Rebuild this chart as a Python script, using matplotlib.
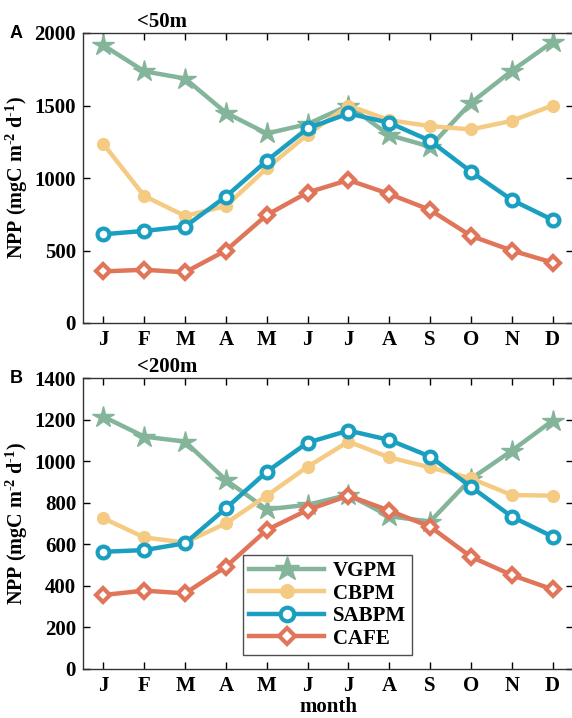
import matplotlib
matplotlib.use("Agg")
import matplotlib.pyplot as plt
import numpy as np

months = ["J", "F", "M", "A", "M", "J", "J", "A", "S", "O", "N", "D"]

# Panel A (<50m)
vgpm_50 = [1915, 1736, 1686, 1450, 1307, 1372, 1500, 1296, 1216, 1518, 1739, 1938]
cbpm_50 = [1234, 876, 738, 807, 1067, 1300, 1500, 1399, 1358, 1335, 1394, 1500]
sabpm_50 = [612, 635, 665, 872, 1119, 1342, 1445, 1381, 1257, 1044, 849, 711]
cafe_50 = [356, 367, 350, 500, 745, 900, 986, 890, 780, 601, 500, 417]

# Panel B (<200m)
vgpm_200 = [1214, 1118, 1094, 909, 768, 790, 838, 735, 709, 915, 1050, 1195]
cbpm_200 = [725, 633, 608, 701, 834, 973, 1094, 1018, 970, 917, 837, 834]
sabpm_200 = [564, 572, 605, 773, 949, 1089, 1147, 1102, 1022, 877, 733, 637]
cafe_200 = [356, 377, 364, 492, 669, 765, 834, 762, 685, 540, 452, 383]

names = ["VGPM", "CBPM", "SABPM", "CAFE"]
colors = ["#84b59a", "#f5cb84", "#1a9fc1", "#e0755a"]

serif = ["Liberation Serif", "DejaVu Serif"]
plt.rcParams["font.family"] = serif
plt.rcParams["font.weight"] = "bold"
plt.rcParams["mathtext.fontset"] = "custom"
plt.rcParams["mathtext.rm"] = "Liberation Serif:bold"
plt.rcParams["mathtext.bf"] = "Liberation Serif:bold"
plt.rcParams["mathtext.it"] = "Liberation Serif:bold"
plt.rcParams["mathtext.default"] = "rm"

fig = plt.figure(figsize=(5.72, 7.18), dpi=100)
W, H = 572.0, 718.0
axA = fig.add_axes([83 / W, 1 - 323 / H, (573 - 83) / W, (323 - 33) / H])
axB = fig.add_axes([83 / W, 1 - 669 / H, (573 - 83) / W, (669 - 378) / H])

x = np.arange(1, 13)


def draw(ax, data):
    styles = [
        dict(marker="*", ms=16, mfc=colors[0], mec=colors[0], mew=1),
        dict(marker="o", ms=8.5, mfc=colors[1], mec=colors[1], mew=1),
        dict(marker="o", ms=8.5, mfc="white", mec=colors[2], mew=3),
        dict(marker="D", ms=7.5, mfc="white", mec=colors[3], mew=3),
    ]
    handles = []
    for vals, c, st, nm in zip(data, colors, styles, names):
        h, = ax.plot(x, vals, color=c, lw=3.2, label=nm, **st)
        handles.append(h)
    ax.set_xlim(0.5, 12.5)
    ax.set_xticks(x)
    ax.set_xticklabels(months)
    ax.tick_params(direction="in", top=True, right=True, length=5, width=1,
                   labelsize=15, pad=5)
    for sp in ax.spines.values():
        sp.set_linewidth(1.0)
        sp.set_color("#333333")
    ax.set_ylabel(r"NPP (mgC m$^{\text{-2}}$ d$^{\text{-1}}$)", fontsize=14.5,
                  fontweight="bold")
    ax.yaxis.set_label_coords((30 - 83) / 490, 0.5)
    return handles


def boldify(ax):
    for lab in ax.get_xticklabels() + ax.get_yticklabels():
        lab.set_fontweight("bold")


draw(axA, [vgpm_50, cbpm_50, sabpm_50, cafe_50])
axA.set_ylim(0, 2000)
axA.set_yticks([0, 500, 1000, 1500, 2000])
boldify(axA)
axA.set_title("<50m", fontsize=15, fontweight="bold", loc="left", x=0.11, pad=4)

hs = draw(axB, [vgpm_200, cbpm_200, sabpm_200, cafe_200])
axB.set_ylim(0, 1400)
axB.set_yticks([0, 200, 400, 600, 800, 1000, 1200, 1400])
boldify(axB)
axB.set_title("<200m", fontsize=15, fontweight="bold", loc="left", x=0.11, pad=4)
axB.set_xlabel("month", fontsize=15, fontweight="bold", labelpad=1)

leg = axB.legend(handles=hs, loc="lower left",
                 bbox_to_anchor=((243 - 83) / 490, (669 - 655) / 291),
                 fontsize=15, handlelength=3.6, frameon=True, fancybox=False,
                 borderpad=0.3, labelspacing=0.12, handletextpad=0.4,
                 borderaxespad=0, markerscale=1.15)
leg.get_frame().set_edgecolor("#222222")
leg.get_frame().set_linewidth(1.0)
for t in leg.get_texts():
    t.set_fontweight("bold")

fig.text(10 / W, 1 - 33 / H, "A", fontsize=13, fontweight="bold",
         family=["Liberation Sans", "DejaVu Sans"], va="center")
fig.text(10 / W, 1 - 378 / H, "B", fontsize=13, fontweight="bold",
         family=["Liberation Sans", "DejaVu Sans"], va="center")

fig.savefig("out.png", dpi=100)
